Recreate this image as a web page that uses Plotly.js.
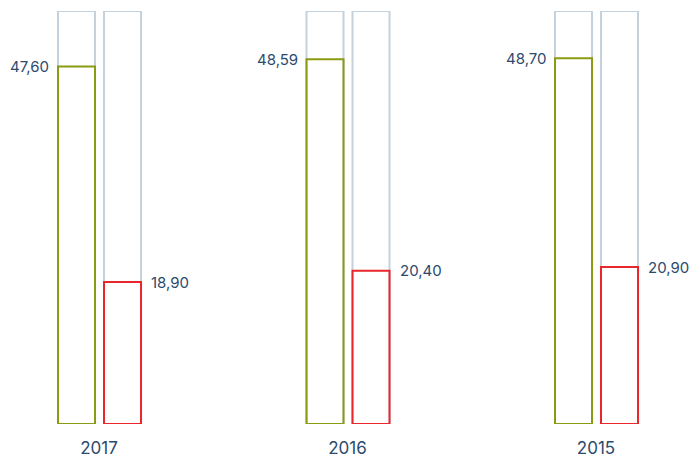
<!DOCTYPE html>
<html>
<head>
<meta charset="utf-8">
<script src="https://cdn.plot.ly/plotly-3.0.1.min.js"></script>
<style>html,body{margin:0;padding:0;background:#fff;}#chart{width:691px;height:460px;}</style>
</head>
<body>
<div id="chart"></div>
<script>
var years = ['2017', '2016', '2015'];
var greenValues = [47.60, 48.59, 48.70];
var redValues = [18.90, 20.40, 20.90];
var maxValues = [55, 55, 55];

var idx = years.map(function (_, i) { return i; });
var W = 0.149;
var offL = -0.165, offR = 0.0201;

function barTrace(y, off, color) {
  return {
    type: 'bar', x: idx, y: y, width: W, offset: off,
    marker: {color: 'rgba(0,0,0,0)', line: {color: color, width: 2}},
    hoverinfo: 'skip', showlegend: false
  };
}

var traces = [
  barTrace(maxValues, offL, '#c3d2dc'),
  barTrace(maxValues, offR, '#c3d2dc'),
  barTrace(greenValues, offL, '#8a9b12'),
  barTrace(redValues, offR, '#e8262b')
];

function fmt(v) { return v.toFixed(2).replace('.', ','); }

var annotations = [];
idx.forEach(function (i) {
  annotations.push({x: i + offL, y: greenValues[i], xref: 'x', yref: 'y', text: fmt(greenValues[i]),
    showarrow: false, xanchor: 'right', yanchor: 'middle', xshift: -7,
    font: {family: 'Inter', size: 15, color: '#2b4a6d'}});
  annotations.push({x: i + offR + W, y: redValues[i], xref: 'x', yref: 'y', text: fmt(redValues[i]),
    showarrow: false, xanchor: 'left', yanchor: 'middle', xshift: 8,
    font: {family: 'Inter', size: 15, color: '#2b4a6d'}});
});

var x0 = -99 / 248.5;
var layout = {
  width: 691, height: 460,
  margin: {l: 0, r: 0, t: 11, b: 36},
  paper_bgcolor: '#fff', plot_bgcolor: '#fff',
  barmode: 'overlay',
  xaxis: {range: [x0, x0 + 691 / 248.5], tickvals: idx, ticktext: years, showgrid: false,
    zeroline: false, showline: false, ticks: '', ticklen: 0, ticklabelstandoff: 12,
    tickfont: {family: 'Inter', size: 17, color: '#2b4a6d'}, fixedrange: true},
  yaxis: {range: [0, 55], visible: false, showgrid: false, zeroline: false, fixedrange: true},
  annotations: annotations,
  showlegend: false
};

Plotly.newPlot('chart', traces, layout, {staticPlot: true});
</script>
</body>
</html>
